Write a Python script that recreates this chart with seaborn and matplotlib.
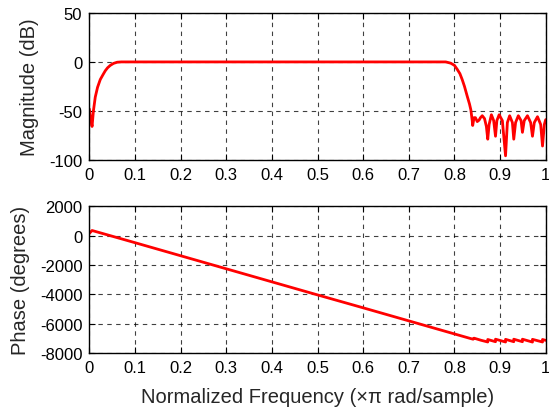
import numpy as np
import matplotlib
matplotlib.use("Agg")
import matplotlib.pyplot as plt
import seaborn as sns

# Magnitude response (dB)
mag_freq = [0.0, 0.003, 0.006, 0.009, 0.013, 0.018, 0.024, 0.030, 0.035, 0.040,
            0.046, 0.053, 0.061, 0.070, 0.2, 0.4, 0.6, 0.781, 0.792, 0.800,
            0.806, 0.812, 0.817, 0.822, 0.828, 0.833, 0.836, 0.839, 0.840, 0.843,
            0.846, 0.850, 0.854, 0.857, 0.861, 0.866, 0.870, 0.873, 0.876, 0.881,
            0.886, 0.890, 0.893, 0.898, 0.905, 0.912, 0.916, 0.921, 0.927, 0.930,
            0.934, 0.940, 0.946, 0.949, 0.953, 0.960, 0.967, 0.971, 0.975, 0.982,
            0.989, 0.993, 0.997, 1.0]
mag_db = [-48, -58, -66, -50, -36, -26, -18, -13, -9, -6,
          -3.5, -1.5, -0.3, 0, 0, 0, 0, 0, -1.3, -3.5,
          -7.5, -12, -18, -25, -35, -43, -49, -60, -65, -57,
          -57, -61, -59.5, -57, -55, -58, -66, -79, -64, -54,
          -60, -76, -60, -54, -60, -96, -62, -55, -62, -79,
          -62, -55, -60, -72, -60, -55, -62, -76, -62, -56,
          -64, -86, -64, -59]

# Phase response (degrees)
phase_freq = [0.0, 0.006, 0.1, 0.2, 0.3, 0.4, 0.5, 0.6, 0.7, 0.8,
              0.836, 0.841, 0.843, 0.858, 0.873, 0.873, 0.890, 0.890, 0.912, 0.912,
              0.930, 0.930, 0.949, 0.949, 0.971, 0.971, 0.993, 0.993, 1.0]
phase_deg = [150, 350, -480, -1370, -2260, -3150, -4040, -4920, -5810, -6700,
             -7020, -7060, -6990, -7130, -7250, -7080, -7230, -7060, -7250, -7070,
             -7230, -7060, -7230, -7060, -7255, -7070, -7250, -7080, -7140]

x_ticks = [0, 0.1, 0.2, 0.3, 0.4, 0.5, 0.6, 0.7, 0.8, 0.9, 1]
x_tick_labels = ["0", "0.1", "0.2", "0.3", "0.4", "0.5", "0.6", "0.7", "0.8", "0.9", "1"]
mag_ticks = [-100, -50, 0, 50]
phase_ticks = [-8000, -6000, -4000, -2000, 0, 2000]

sns.set_style("ticks")
plt.rcParams['font.family'] = ['Liberation Sans', 'DejaVu Sans']

fig = plt.figure(figsize=(5.49, 4.10), dpi=100)
ax1 = fig.add_axes([0.1627, 0.6080, 0.8313, 0.3578])
ax2 = fig.add_axes([0.1627, 0.1366, 0.8313, 0.3578])

sns.lineplot(x=mag_freq, y=mag_db, ax=ax1, color="red", linewidth=2,
             estimator=None, sort=False)
sns.lineplot(x=phase_freq, y=phase_deg, ax=ax2, color="red", linewidth=2,
             estimator=None, sort=False)

for ax, yt, ylab in [(ax1, mag_ticks, "Magnitude (dB)"), (ax2, phase_ticks, "Phase (degrees)")]:
    ax.set_xlim(0, 1)
    ax.set_ylim(yt[0], yt[-1])
    ax.set_xticks(x_ticks)
    ax.set_xticklabels(x_tick_labels)
    ax.set_yticks(yt)
    ax.set_yticklabels([str(t) for t in yt])
    ax.grid(True, color="black", linestyle=(0, (4, 4)), linewidth=0.8, alpha=0.75)
    ax.tick_params(direction="in", top=True, right=True, labelsize=12,
                   length=4, width=0.8, colors="black")
    ax.tick_params(axis="x", pad=5)
    ax.tick_params(axis="y", pad=5)
    for s in ax.spines.values():
        s.set_visible(True)
        s.set_color("black")
        s.set_linewidth(1)
    ax.set_ylabel(ylab, fontsize=14.5, labelpad=7)

ax2.set_xlabel("Normalized Frequency (\u00d7\u03c0 rad/sample)", fontsize=14.5, labelpad=9)

fig.savefig("out.png", dpi=100)
